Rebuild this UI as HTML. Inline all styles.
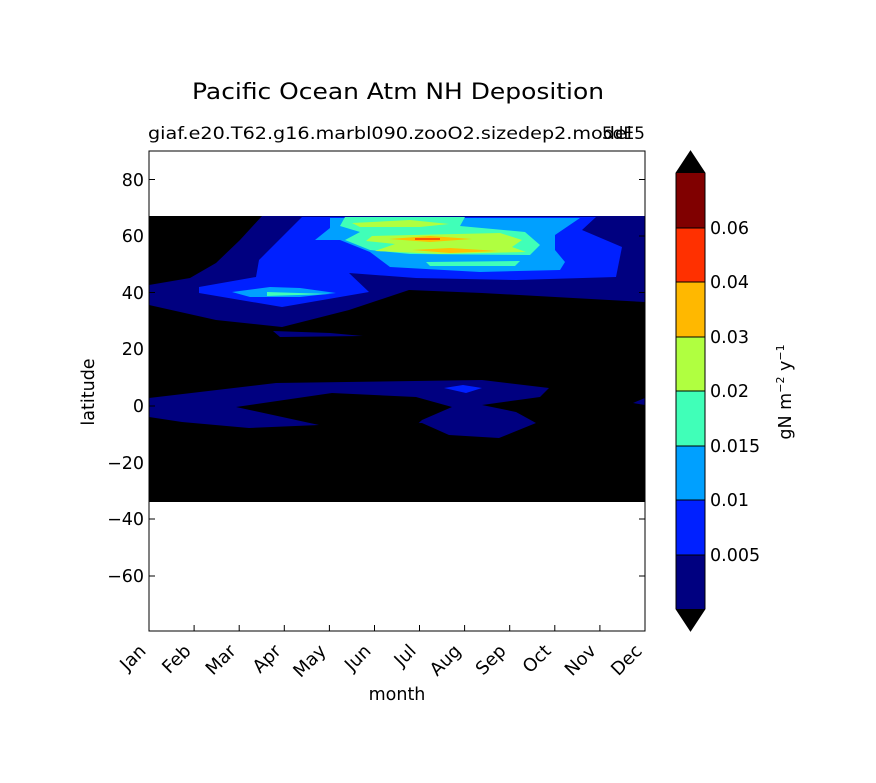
<!DOCTYPE html>
<html><head><meta charset="utf-8"><style>
body{margin:0;background:#fff;}
svg{display:block;font-family:"DejaVu Sans","Liberation Sans",sans-serif;}
</style></head><body>
<svg width="876" height="783" viewBox="0 0 876 783" xmlns="http://www.w3.org/2000/svg">
<rect width="876" height="783" fill="#fff"/>
<text x="192" y="99" font-size="22" textLength="412" lengthAdjust="spacingAndGlyphs">Pacific Ocean Atm NH Deposition</text>
<text x="148" y="139" font-size="17" textLength="484" lengthAdjust="spacingAndGlyphs">giaf.e20.T62.g16.marbl090.zooO2.sizedep2.model</text>
<text x="645" y="139" font-size="17" text-anchor="end">5dE5</text>
<defs><clipPath id="c"><rect x="149" y="216" width="496" height="286"/></clipPath></defs>
<rect x="149" y="216" width="496" height="286" fill="#000"/>
<g clip-path="url(#c)">
<polygon fill="#000080" points="262,216 645,216 645,302 482,293 409,290 349,310 282,327 216,320 149,305 149,285 190,278 216,263 240,240"/>
<polygon fill="#0020ff" points="302,217 596,217 582,230 622,247 616,277 516,280 416,278 349,273 369,292 282,307 199,293 199,287 256,277 259,260 282,237"/>
<polygon fill="#00a0ff" points="330,218 580,218 555,235 555,250 565,262 560,270 480,272 390,267 370,252 340,240 315,240 330,228"/>
<polygon fill="#00a0ff" points="232,292 270,287 300,288 336,293 300,297 250,297"/>
<polygon fill="#40ffb8" points="345,217 465,217 460,226 525,232 540,245 530,255 410,254 370,250 345,240 360,232 340,226"/>
<polygon fill="#40ffb8" points="426,262 520,261 515,266 430,266"/>
<polygon fill="#40ffb8" points="267,292 330,294 267,296"/>
<polygon fill="#b0ff40" points="352,223 410,220 449,224 420,227 360,227"/>
<polygon fill="#b0ff40" points="372,236 500,233 522,240 512,247 526,252 440,254 375,251 395,244 366,241"/>
<polygon fill="#ffc000" points="389,239 430,236 472,239 430,242"/>
<polygon fill="#ffc000" points="412,250 450,248 499,251 450,253"/>
<line x1="415" y1="239" x2="440" y2="239" stroke="#ff3000" stroke-width="1.5"/>
<polygon fill="#000080" points="149,398 276,383 482,380 549,388 540,397 482,405 516,412 536,423 499,438 449,435 422,423 319,425 249,428 182,422 149,417"/>
<polygon fill="#000" points="236,407 332,393 416,397 452,407 422,420 400,440 330,440 319,425"/>
<polygon fill="#0020ff" points="444,388 463,385 482,388 466,393"/>
<polygon fill="#000080" points="633,403 645,398 645,405"/>
<polygon fill="#000080" points="273,331 330,333 363,336 280,337"/>
</g>
<rect x="149" y="151" width="496" height="480" fill="none" stroke="#000" stroke-width="1"/>
<g stroke="#000" stroke-width="1">
<line x1="149" y1="179.5" x2="155" y2="179.5"/><line x1="645" y1="179.5" x2="639" y2="179.5"/>
<line x1="149" y1="236" x2="155" y2="236"/><line x1="645" y1="236" x2="639" y2="236"/>
<line x1="149" y1="292.5" x2="155" y2="292.5"/><line x1="645" y1="292.5" x2="639" y2="292.5"/>
<line x1="149" y1="349" x2="155" y2="349"/><line x1="645" y1="349" x2="639" y2="349"/>
<line x1="149" y1="406" x2="155" y2="406"/><line x1="645" y1="406" x2="639" y2="406"/>
<line x1="149" y1="462.5" x2="155" y2="462.5"/><line x1="645" y1="462.5" x2="639" y2="462.5"/>
<line x1="149" y1="519" x2="155" y2="519"/><line x1="645" y1="519" x2="639" y2="519"/>
<line x1="149" y1="576" x2="155" y2="576"/><line x1="645" y1="576" x2="639" y2="576"/>
</g>
<g font-size="17.5" text-anchor="end">
<text x="144" y="186">80</text><text x="144" y="242">60</text><text x="144" y="299">40</text>
<text x="144" y="355">20</text><text x="144" y="412">0</text><text x="144" y="469">−20</text>
<text x="144" y="525">−40</text><text x="144" y="582">−60</text>
</g>
<text transform="translate(94,392) rotate(-90)" font-size="17.5" text-anchor="middle">latitude</text>
<g stroke="#000">
<line x1="194.1" y1="631" x2="194.1" y2="625"/><line x1="239.2" y1="631" x2="239.2" y2="625"/>
<line x1="284.3" y1="631" x2="284.3" y2="625"/><line x1="329.4" y1="631" x2="329.4" y2="625"/>
<line x1="374.5" y1="631" x2="374.5" y2="625"/><line x1="419.5" y1="631" x2="419.5" y2="625"/>
<line x1="464.6" y1="631" x2="464.6" y2="625"/><line x1="509.7" y1="631" x2="509.7" y2="625"/>
<line x1="554.8" y1="631" x2="554.8" y2="625"/><line x1="599.9" y1="631" x2="599.9" y2="625"/>
</g>
<g font-size="18" text-anchor="end">
<text transform="translate(147,652) rotate(-45)">Jan</text>
<text transform="translate(192,652) rotate(-45)">Feb</text>
<text transform="translate(237,652) rotate(-45)">Mar</text>
<text transform="translate(282,652) rotate(-45)">Apr</text>
<text transform="translate(327,652) rotate(-45)">May</text>
<text transform="translate(372,652) rotate(-45)">Jun</text>
<text transform="translate(417,652) rotate(-45)">Jul</text>
<text transform="translate(462,652) rotate(-45)">Aug</text>
<text transform="translate(507,652) rotate(-45)">Sep</text>
<text transform="translate(552,652) rotate(-45)">Oct</text>
<text transform="translate(597,652) rotate(-45)">Nov</text>
<text transform="translate(643,652) rotate(-45)">Dec</text>
</g>
<text x="397" y="700" font-size="17.5" text-anchor="middle">month</text>
<polygon points="676,173 690.5,151 705,173" fill="#000"/>
<polygon points="676,609 690.5,631 705,609" fill="#000"/>
<rect x="676" y="173" width="29" height="55" fill="#800000"/>
<rect x="676" y="228" width="29" height="54" fill="#ff3000"/>
<rect x="676" y="282" width="29" height="55" fill="#ffb800"/>
<rect x="676" y="337" width="29" height="54" fill="#b0ff40"/>
<rect x="676" y="391" width="29" height="55" fill="#40ffb8"/>
<rect x="676" y="446" width="29" height="54" fill="#00a0ff"/>
<rect x="676" y="500" width="29" height="55" fill="#0020ff"/>
<rect x="676" y="555" width="29" height="54" fill="#000080"/>
<g stroke="#000" stroke-width="1" fill="none">
<polygon points="676,173 690.5,151 705,173 705,609 690.5,631 676,609"/>
<line x1="676" y1="228" x2="705" y2="228"/><line x1="676" y1="282" x2="705" y2="282"/>
<line x1="676" y1="337" x2="705" y2="337"/><line x1="676" y1="391" x2="705" y2="391"/>
<line x1="676" y1="446" x2="705" y2="446"/><line x1="676" y1="500" x2="705" y2="500"/>
<line x1="676" y1="555" x2="705" y2="555"/>
</g>
<g font-size="17.5">
<text x="710" y="234">0.06</text><text x="710" y="288">0.04</text><text x="710" y="343">0.03</text>
<text x="710" y="397">0.02</text><text x="710" y="452">0.015</text><text x="710" y="506">0.01</text>
<text x="710" y="561">0.005</text>
</g>
<text transform="translate(791,392) rotate(-90)" font-size="17.5" text-anchor="middle">gN m<tspan font-size="11" dy="-7">−2</tspan><tspan dy="7">  y</tspan><tspan font-size="11" dy="-7">−1</tspan></text>
</svg>
</body></html>
